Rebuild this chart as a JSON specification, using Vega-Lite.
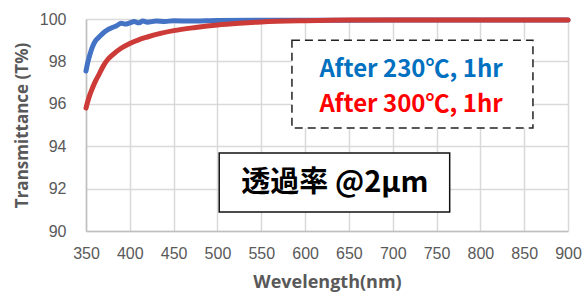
{
  "$schema": "https://vega.github.io/schema/vega-lite/v6.json",
  "width": 482,
  "height": 212,
  "autosize": {"type": "none"},
  "padding": {"left": 86, "top": 19, "right": 15, "bottom": 63},
  "background": "white",
  "config": {
    "view": {"stroke": null},
    "font": "Liberation Sans"
  },
  "datasets": {
    "curves": [
      {"wl": 350, "t": 97.55, "s": "230"},
      {"wl": 352, "t": 97.95, "s": "230"},
      {"wl": 355, "t": 98.4, "s": "230"},
      {"wl": 358, "t": 98.75, "s": "230"},
      {"wl": 361, "t": 98.98, "s": "230"},
      {"wl": 365, "t": 99.15, "s": "230"},
      {"wl": 370, "t": 99.35, "s": "230"},
      {"wl": 375, "t": 99.5, "s": "230"},
      {"wl": 380, "t": 99.6, "s": "230"},
      {"wl": 385, "t": 99.68, "s": "230"},
      {"wl": 390, "t": 99.8, "s": "230"},
      {"wl": 395, "t": 99.76, "s": "230"},
      {"wl": 400, "t": 99.82, "s": "230"},
      {"wl": 405, "t": 99.88, "s": "230"},
      {"wl": 410, "t": 99.82, "s": "230"},
      {"wl": 415, "t": 99.9, "s": "230"},
      {"wl": 420, "t": 99.85, "s": "230"},
      {"wl": 430, "t": 99.9, "s": "230"},
      {"wl": 440, "t": 99.88, "s": "230"},
      {"wl": 450, "t": 99.92, "s": "230"},
      {"wl": 470, "t": 99.9, "s": "230"},
      {"wl": 500, "t": 99.93, "s": "230"},
      {"wl": 550, "t": 99.94, "s": "230"},
      {"wl": 600, "t": 99.94, "s": "230"},
      {"wl": 700, "t": 99.95, "s": "230"},
      {"wl": 800, "t": 99.95, "s": "230"},
      {"wl": 900, "t": 99.95, "s": "230"},
      {"wl": 350, "t": 95.8, "s": "300"},
      {"wl": 353, "t": 96.25, "s": "300"},
      {"wl": 356, "t": 96.6, "s": "300"},
      {"wl": 360, "t": 97.0, "s": "300"},
      {"wl": 365, "t": 97.4, "s": "300"},
      {"wl": 370, "t": 97.8, "s": "300"},
      {"wl": 375, "t": 98.1, "s": "300"},
      {"wl": 380, "t": 98.3, "s": "300"},
      {"wl": 390, "t": 98.62, "s": "300"},
      {"wl": 400, "t": 98.85, "s": "300"},
      {"wl": 410, "t": 99.02, "s": "300"},
      {"wl": 420, "t": 99.15, "s": "300"},
      {"wl": 435, "t": 99.32, "s": "300"},
      {"wl": 450, "t": 99.45, "s": "300"},
      {"wl": 475, "t": 99.6, "s": "300"},
      {"wl": 500, "t": 99.72, "s": "300"},
      {"wl": 525, "t": 99.8, "s": "300"},
      {"wl": 550, "t": 99.86, "s": "300"},
      {"wl": 600, "t": 99.92, "s": "300"},
      {"wl": 650, "t": 99.95, "s": "300"},
      {"wl": 750, "t": 99.95, "s": "300"},
      {"wl": 900, "t": 99.95, "s": "300"}
    ],
    "boxes": [
      {"x1": 585, "x2": 860, "y1": 99.0, "y2": 94.86, "kind": "dashed"},
      {"x1": 502, "x2": 765, "y1": 93.68, "y2": 90.9, "kind": "solid"}
    ],
    "labels": [
      {"x": 721, "y": 97.6, "label": "After 230℃, 1hr", "c": "#0070C0", "size": 24},
      {"x": 721, "y": 95.95, "label": "After 300℃, 1hr", "c": "#FF0000", "size": 24},
      {"x": 634, "y": 92.27, "label": "透過率 @2μm", "c": "#000000", "size": 29}
    ]
  },
  "layer": [
    {
      "data": {"name": "curves"},
      "mark": {"type": "line", "strokeWidth": 5, "strokeCap": "round", "interpolate": "monotone"},
      "encoding": {
        "x": {
          "field": "wl", "type": "quantitative",
          "scale": {"domain": [350, 900], "nice": false},
          "axis": {
            "values": [350, 400, 450, 500, 550, 600, 650, 700, 750, 800, 850, 900],
            "title": "Wevelength(nm)",
            "titleFont": "Open Sans", "titleFontSize": 18, "titleFontWeight": "bold", "titleColor": "#595959",
            "titlePadding": 12,
            "labelFont": "Liberation Sans", "labelFontSize": 16, "labelColor": "#595959", "labelPadding": 14,
            "labelFlush": false, "labelOverlap": false,
            "ticks": false, "domainColor": "#BFBFBF", "domainWidth": 1.5,
            "grid": true, "gridColor": "#D9D9D9", "gridWidth": 1.5
          }
        },
        "y": {
          "field": "t", "type": "quantitative",
          "scale": {"domain": [90, 100], "nice": false},
          "axis": {
            "values": [90, 92, 94, 96, 98, 100],
            "title": "Transmittance (T%)",
            "titleFont": "Open Sans", "titleFontSize": 17, "titleFontWeight": "bold", "titleColor": "#595959",
            "titlePadding": 8,
            "labelFont": "Liberation Sans", "labelFontSize": 16, "labelColor": "#595959", "labelPadding": 20,
            "labelFlush": false,
            "ticks": false, "domainColor": "#BFBFBF", "domainWidth": 1.5,
            "grid": true, "gridColor": "#D9D9D9", "gridWidth": 1.5
          }
        },
        "color": {
          "field": "s", "type": "nominal",
          "scale": {"domain": ["230", "300"], "range": ["#4472C4", "#CC3B37"]},
          "legend": null
        },
        "order": {"field": "s", "sort": "descending"}
      }
    },
    {
      "data": {"name": "boxes"},
      "transform": [{"filter": "datum.kind === 'dashed'"}],
      "mark": {"type": "rect", "fill": "white", "stroke": "#222222", "strokeWidth": 1.5, "strokeDash": [8, 5]},
      "encoding": {
        "x": {"field": "x1", "type": "quantitative"},
        "x2": {"field": "x2"},
        "y": {"field": "y1", "type": "quantitative"},
        "y2": {"field": "y2"}
      }
    },
    {
      "data": {"name": "boxes"},
      "transform": [{"filter": "datum.kind === 'solid'"}],
      "mark": {"type": "rect", "fill": "white", "stroke": "#111111", "strokeWidth": 1.5},
      "encoding": {
        "x": {"field": "x1", "type": "quantitative"},
        "x2": {"field": "x2"},
        "y": {"field": "y1", "type": "quantitative"},
        "y2": {"field": "y2"}
      }
    },
    {
      "data": {"name": "labels"},
      "mark": {"type": "text", "font": "Noto Sans CJK JP", "fontWeight": "bold", "align": "center", "baseline": "middle"},
      "encoding": {
        "x": {"field": "x", "type": "quantitative"},
        "y": {"field": "y", "type": "quantitative"},
        "text": {"field": "label"},
        "color": {"field": "c", "type": "nominal", "scale": null},
        "size": {"field": "size", "type": "quantitative", "scale": null}
      }
    }
  ]
}
